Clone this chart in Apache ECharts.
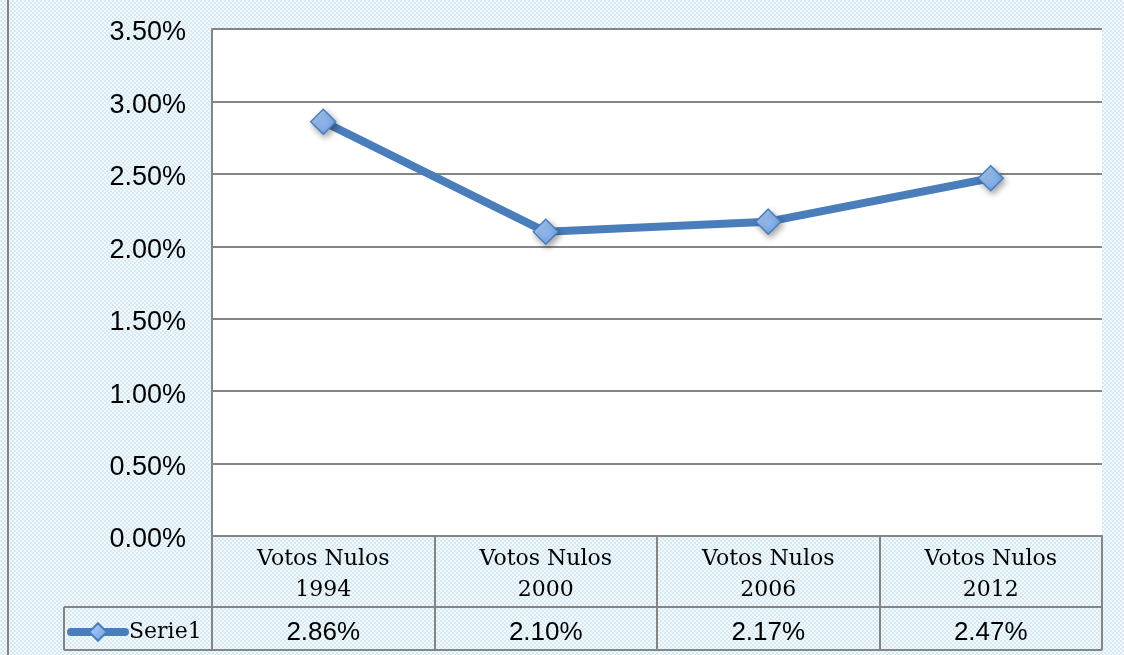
<!DOCTYPE html>
<html>
<head>
<meta charset="utf-8">
<script src="https://cdn.jsdelivr.net/npm/echarts@6/dist/echarts.min.js"></script>
<style>
  html, body { margin: 0; padding: 0; }
  #chart { width: 1124px; height: 655px; }
</style>
</head>
<body>
<div id="chart"></div>
<script>
// datos
const categories = ['Votos Nulos 1994', 'Votos Nulos 2000', 'Votos Nulos 2006', 'Votos Nulos 2012'];
const serie1 = [0.0286, 0.0210, 0.0217, 0.0247];
const seriesName = 'Serie1';

const gray = '#858585';
const sans = 'Liberation Sans';
const serif = 'DejaVu Serif';

// fondo a cuadritos
function makePattern() {
  const c = document.createElement('canvas');
  c.width = 4; c.height = 4;
  const ctx = c.getContext('2d');
  ctx.fillStyle = '#f3f9fc';
  ctx.fillRect(0, 0, 4, 4);
  ctx.fillStyle = '#d5eaf5';
  ctx.fillRect(0, 0, 2, 2);
  ctx.fillRect(2, 2, 2, 2);
  return c;
}

const pct = v => (v * 100).toFixed(2) + '%';

const chart = echarts.init(document.getElementById('chart'));
chart.setOption({
  animation: false,
  backgroundColor: { image: makePattern(), repeat: 'repeat' },
  grid: {
    left: 212, right: 22, top: 29, bottom: 119,
    show: true, backgroundColor: '#ffffff', borderWidth: 0
  },
  legend: {
    left: 62, top: 616,
    itemWidth: 54, itemHeight: 22, itemGap: 0,
    lineStyle: { width: 8, cap: 'round' },
    textStyle: { fontFamily: serif, fontSize: 22, color: '#000', padding: [0, 0, 0, -1] },
    data: [seriesName]
  },
  xAxis: {
    type: 'category',
    data: categories,
    boundaryGap: true,
    axisLine: { show: true, lineStyle: { color: gray, width: 2 } },
    axisTick: { show: true, length: 114, lineStyle: { color: gray, width: 2 } },
    axisLabel: {
      margin: 8,
      interval: 0,
      formatter: (v, i) => {
        const parts = v.split(' ');
        return '{h|' + parts[0] + ' ' + parts[1] + '}\n{h|' + parts[2] + '}\n{v|' + pct(serie1[i]) + '}';
      },
      rich: {
        h: { fontFamily: serif, fontSize: 22, lineHeight: 31, color: '#000' },
        v: { fontFamily: sans, fontSize: 26, lineHeight: 54, color: '#000' }
      }
    }
  },
  yAxis: {
    type: 'value',
    min: 0, max: 0.035, interval: 0.005,
    axisLine: { show: true, lineStyle: { color: gray, width: 2 } },
    axisTick: { show: false },
    splitLine: { lineStyle: { color: gray, width: 2 } },
    axisLabel: {
      margin: 26,
      formatter: pct,
      fontFamily: sans, fontSize: 27, color: '#000',
      verticalAlign: 'top', lineHeight: 8
    }
  },
  graphic: [
    { type: 'line', shape: { x1: 8, y1: 0, x2: 8, y2: 655 }, style: { stroke: gray, lineWidth: 2 } },
    { type: 'line', shape: { x1: 64, y1: 607, x2: 1102, y2: 607 }, style: { stroke: gray, lineWidth: 2 } },
    { type: 'line', shape: { x1: 64, y1: 650, x2: 1102, y2: 650 }, style: { stroke: gray, lineWidth: 2 } },
    { type: 'line', shape: { x1: 64, y1: 607, x2: 64, y2: 650 }, style: { stroke: gray, lineWidth: 2 } }
  ],
  series: [{
    name: seriesName,
    type: 'line',
    data: serie1,
    symbol: 'diamond',
    symbolSize: 25,
    lineStyle: { color: '#4a7ebb', width: 8, cap: 'round', join: 'round' },
    itemStyle: {
      color: new echarts.graphic.LinearGradient(0, 0, 1, 1, [
        { offset: 0, color: '#b4d2fa' },
        { offset: 1, color: '#6b9de3' }
      ]),
      borderColor: '#4a7ebb',
      borderWidth: 1.5,
      shadowBlur: 6,
      shadowColor: 'rgba(0,0,0,0.35)',
      shadowOffsetX: 2,
      shadowOffsetY: 3
    }
  }]
});
</script>
</body>
</html>
